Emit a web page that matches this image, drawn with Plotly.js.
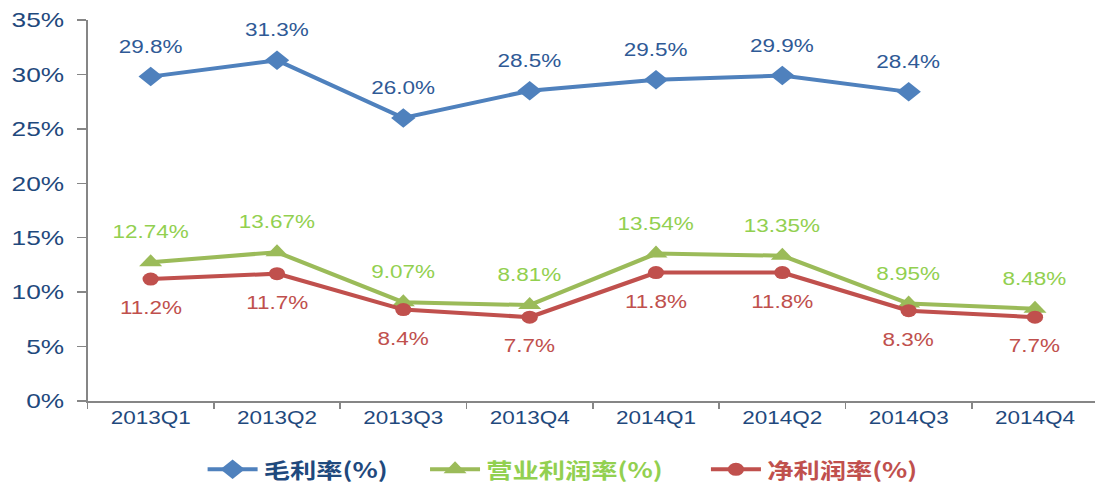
<!DOCTYPE html>
<html>
<head>
<meta charset="utf-8">
<script src="https://cdn.plot.ly/plotly-3.0.1.min.js"></script>
<style>
html,body{margin:0;padding:0;background:#fff;overflow:hidden;width:1095px;height:483px;}
#chart{width:876px;height:483px;transform:scaleX(1.25);transform-origin:0 0;}
</style>
</head>
<body>
<div id="chart"></div>
<script>
var categories = ["2013Q1","2013Q2","2013Q3","2013Q4","2014Q1","2014Q2","2014Q3","2014Q4"];
var grossMargin = [29.8, 31.3, 26.0, 28.5, 29.5, 29.9, 28.4, null];
var grossLabels = ["29.8%","31.3%","26.0%","28.5%","29.5%","29.9%","28.4%",""];
var operatingMargin = [12.74, 13.67, 9.07, 8.81, 13.54, 13.35, 8.95, 8.48];
var operatingLabels = ["12.74%","13.67%","9.07%","8.81%","13.54%","13.35%","8.95%","8.48%"];
var netMargin = [11.2, 11.7, 8.4, 7.7, 11.8, 11.8, 8.3, 7.7];
var netLabels = ["11.2%","11.7%","8.4%","7.7%","11.8%","11.8%","8.3%","7.7%"];
var seriesNames = ["毛利率(%)", "营业利润率(%)", "净利润率(%)"];
var yTicks = [0,5,10,15,20,25,30,35];
var yTickText = ["0%","5%","10%","15%","20%","25%","30%","35%"];

var cBlue = "#4F81BD", cGreen = "#9BBB59", cRed = "#C0504D";
var lblBlue = "#2F5A96", lblGreen = "#92D050", lblRed = "#C0504D";
var pad = "\u00A0\u00A0\u00A0\u00A0\u00A0";

var traces = [
  {x: categories, y: grossMargin, type: "scatter", mode: "lines+markers",
   name: '<span style="color:#1F497D">' + seriesNames[0] + '</span>' + pad,
   line: {color: cBlue, width: 4}, marker: {symbol: "diamond", size: 15, color: cBlue},
   connectgaps: false, hoverinfo: "none"},
  {x: categories, y: operatingMargin, type: "scatter", mode: "lines+markers",
   name: '<span style="color:#92D050">' + seriesNames[1] + '</span>' + pad + "\u00A0",
   line: {color: cGreen, width: 4}, marker: {symbol: "triangle-up", size: 16, color: cGreen},
   hoverinfo: "none"},
  {x: categories, y: netMargin, type: "scatter", mode: "lines+markers",
   name: '<span style="color:#C0504D">' + seriesNames[2] + '</span>',
   line: {color: cRed, width: 4}, marker: {symbol: "circle", size: 13, color: cRed},
   hoverinfo: "none"}
];

var annotations = [];
function addLabels(vals, labels, color, shift) {
  for (var i = 0; i < categories.length; i++) {
    if (vals[i] === null || !labels[i]) continue;
    annotations.push({x: categories[i], y: vals[i], text: labels[i], showarrow: false,
      yshift: shift, font: {family: "Liberation Sans, Arial, sans-serif", size: 18, color: color}});
  }
}
addLabels(grossMargin, grossLabels, lblBlue, 30);
addLabels(operatingMargin, operatingLabels, lblGreen, 30);
addLabels(netMargin, netLabels, lblRed, -29);

var layout = {
  width: 876, height: 483,
  margin: {l: 70, r: 0, t: 20, b: 82},
  paper_bgcolor: "#fff", plot_bgcolor: "#fff",
  showlegend: true,
  legend: {orientation: "h", x: 0.113, xanchor: "left", yref: "container", y: 0.07, yanchor: "top",
    font: {family: "Noto Sans CJK SC, sans-serif", size: 21, weight: "bold"},
    itemwidth: 40, tracegroupgap: 0},
  xaxis: {type: "category", range: [-0.5, 7.475], showgrid: false, zeroline: false,
    showline: true, linecolor: "#868686", linewidth: 1.5,
    ticks: "outside", tickson: "boundaries", ticklen: 6, tickcolor: "#868686", tickwidth: 1.5,
    tickfont: {family: "Liberation Sans, Arial, sans-serif", size: 18, color: "#1F497D"}},
  yaxis: {range: [0, 35], tickvals: yTicks, ticktext: yTickText, showgrid: false, zeroline: false,
    showline: true, linecolor: "#868686", linewidth: 1.5, ticklabelstandoff: 6,
    ticks: "outside", ticklen: 7, tickcolor: "#868686", tickwidth: 1.5,
    tickfont: {family: "Liberation Sans, Arial, sans-serif", size: 21, color: "#1F497D"}},
  annotations: annotations
};

Plotly.newPlot("chart", traces, layout, {displayModeBar: false, staticPlot: true});
</script>
</body>
</html>
